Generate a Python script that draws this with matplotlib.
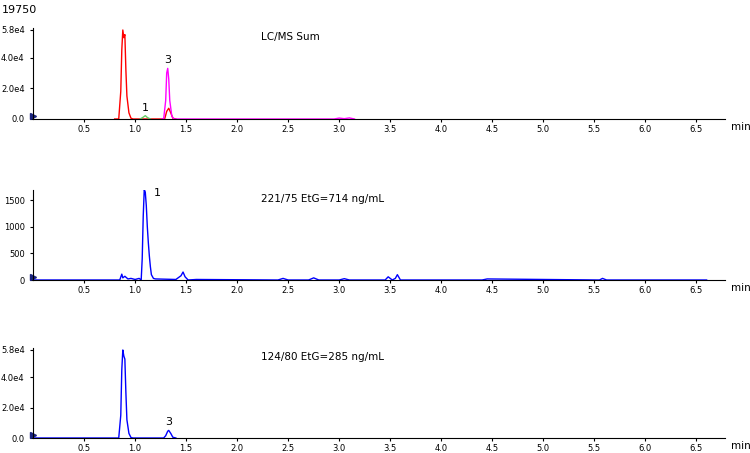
import matplotlib
matplotlib.use("Agg")
import matplotlib.pyplot as plt

# panel 1: LC/MS sum
red_t = [0.80, 0.84, 0.86, 0.87, 0.88, 0.89, 0.90, 0.91, 0.92, 0.94, 0.96, 0.98, 1.20, 1.29, 1.31, 1.33, 1.35, 1.37, 1.40]
red_y = [0, 0, 18000, 45000, 58000, 53000, 55000, 32000, 15000, 4000, 500, 0, 0, 0, 5000, 7000, 4000, 500, 0]
mag_t = [1.26, 1.28, 1.30, 1.31, 1.32, 1.33, 1.34, 1.36, 1.38, 2.95, 3.00, 3.05, 3.10, 3.15]
mag_y = [0, 0, 12000, 30000, 33000, 26000, 12000, 2000, 0, 0, 600, 200, 700, 0]
grn_t = [1.05, 1.08, 1.10, 1.12, 1.15]
grn_y = [0, 1200, 2200, 1000, 0]

# panel 2: 221/75
b2_t = [0.00, 0.85, 0.87, 0.88, 0.90, 0.93, 0.96, 1.00, 1.04, 1.06, 1.07, 1.08, 1.09, 1.10, 1.11, 1.12, 1.13, 1.14,
        1.15, 1.16, 1.18, 1.20, 1.30, 1.40, 1.45, 1.47, 1.49, 1.52, 1.60, 2.40, 2.45, 2.50, 2.70, 2.75, 2.80,
        3.00, 3.05, 3.10, 3.45, 3.48, 3.52, 3.55, 3.57, 3.60, 4.40, 4.45, 5.55, 5.58, 5.62, 6.60]
b2_y = [0, 0, 110, 40, 70, 20, 30, 10, 30, 0, 400, 1200, 1700, 1650, 1400, 1000, 700, 450,
        250, 100, 30, 20, 15, 10, 80, 150, 60, 0, 10, 0, 30, 0, 0, 40, 0,
        0, 25, 0, 0, 60, 0, 30, 100, 0, 0, 20, 0, 30, 0, 0]

# panel 3: 124/80
b3_t = [0.00, 0.84, 0.86, 0.87, 0.88, 0.89, 0.90, 0.91, 0.92, 0.94, 0.96, 0.98, 1.28, 1.30, 1.32, 1.33, 1.35, 1.37, 1.40]
b3_y = [0, 0, 15000, 45000, 58000, 54000, 52000, 30000, 12000, 3000, 300, 0, 0, 1500, 4500, 5000, 3000, 500, 0]

xticks = [0.5, 1.0, 1.5, 2.0, 2.5, 3.0, 3.5, 4.0, 4.5, 5.0, 5.5, 6.0, 6.5]
big_ticks = [0, 20000, 40000, 58000]
big_labels = ["0.0", "2.0e4", "4.0e4", "5.8e4"]
mid_ticks = [0, 500, 1000, 1500]
mid_labels = ["0", "500", "1000", "1500"]

fig = plt.figure(figsize=(7.5, 4.53), dpi=100)
L, W = 33 / 750, 692 / 750


def make_ax(bottom_px, top_px, ymax, yt, yl, title):
    ax = fig.add_axes([L, 1 - bottom_px / 453, W, (bottom_px - top_px) / 453])
    ax.set_xlim(0, 6.78)
    ax.set_ylim(0, ymax)
    for s in ("top", "right"):
        ax.spines[s].set_visible(False)
    ax.set_xticks(xticks)
    ax.set_xticklabels([f"{v:.1f}" for v in xticks], fontsize=6)
    ax.set_yticks(yt)
    ax.set_yticklabels(yl, fontsize=6)
    ax.tick_params(length=2, pad=4)
    ax.tick_params(axis="x", pad=2)
    ax.text(1.008, -0.09, "min", transform=ax.transAxes, fontsize=7.5, va="center")
    ax.text(0.33, 0.9, title, transform=ax.transAxes, fontsize=7.5, va="center")
    ax.plot([0], [0.03 * ymax], marker=">", color="#1a237e", ms=4, clip_on=False)
    return ax


ax1 = make_ax(119, 28, 59300, big_ticks, big_labels, "LC/MS Sum")
ax1.plot(red_t, red_y, color="red", lw=1)
ax1.plot(mag_t, mag_y, color="magenta", lw=1)
ax1.plot(grn_t, grn_y, color="#66cc66", lw=1)
ax1.text(1.32, 36500, "3", fontsize=8, ha="center")
ax1.text(1.10, 5000, "1", fontsize=8, ha="center")

ax2 = make_ax(280, 190, 1690, mid_ticks, mid_labels, "221/75 EtG=714 ng/mL")
ax2.plot(b2_t, b2_y, color="blue", lw=1)
ax2.text(1.18, 1580, "1", fontsize=8)

ax3 = make_ax(438, 348, 59300, big_ticks, big_labels, "124/80 EtG=285 ng/mL")
ax3.plot(b3_t, b3_y, color="blue", lw=1)
ax3.text(1.33, 8500, "3", fontsize=8, ha="center")

fig.text(2 / 750, 1 - 10 / 453, "19750", fontsize=8, va="center")

fig.savefig("out.png", dpi=100)
